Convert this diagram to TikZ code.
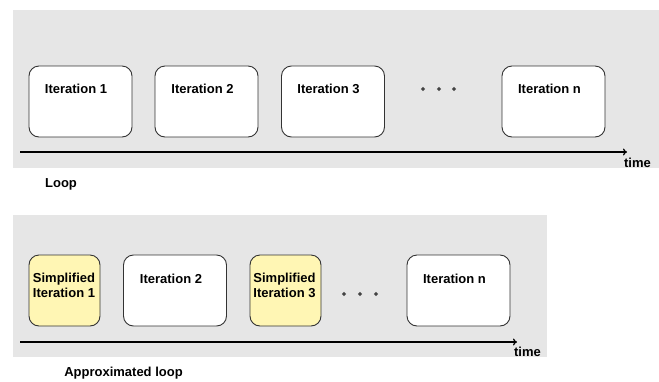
\documentclass[tikz,border=0pt]{standalone}
\usepackage{fontspec}
\setmainfont{Liberation Sans}
\usetikzlibrary{arrows.meta}
\definecolor{panel}{HTML}{E6E6E6}
\definecolor{simp}{HTML}{FFF6B4}
\definecolor{edge}{HTML}{333333}
\begin{document}
\begin{tikzpicture}[x=1pt,y=-1pt,
  lbl/.style={font=\fontsize{13}{15}\selectfont\bfseries, inner sep=0pt, align=left},
  iterbox/.style={draw=edge, line width=0.9pt, fill=white, rounded corners=10pt,
    minimum height=71pt, inner sep=0pt},
  wide/.style={iterbox, minimum width=103pt},
  narrow/.style={iterbox, minimum width=71pt, fill=simp},
  dot/.style={circle, fill=black!75, draw=black!60, minimum size=3.6pt, inner sep=0pt},
  timeline/.style={line width=1.2pt, -{To[length=4pt,width=7pt]}}]
\useasboundingbox (0,0) rectangle (659,381);

% ---- plain loop ----
\fill[panel] (13,10) rectangle (659,168);
\node[wide] (b1) at (80.5,101.5) {};
\node[wide] (b2) at (206.5,101.5) {};
\node[wide] (b3) at (333,101.5) {};
\node[wide] (bn) at (553.5,101.5) {};
\node[lbl] (t1) at (76,89) {Iteration 1};
\node[lbl] (t2) at (202.5,89) {Iteration 2};
\node[lbl] (t3) at (328.5,89) {Iteration 3};
\node[lbl] (tn) at (549.5,89) {Iteration n};
\node[dot] (d1) at (423,89) {};
\node[dot] (d2) at (439,89) {};
\node[dot] (d3) at (454,89) {};
\coordinate (a0) at (20,152);
\coordinate (a1) at (627,152);
\draw[timeline] (a0) -- (a1);
\node[lbl] (time1) at (637.5,162.5) {time};
\node[lbl] (loop) at (61,184) {Loop};

% ---- approximated loop ----
\fill[panel] (13,215) rectangle (547,357);
\node[narrow] (s1) at (64.5,290.5) {};
\node[wide] (c2) at (175,290.5) {};
\node[narrow] (s3) at (285.5,290.5) {};
\node[wide] (cn) at (458.5,290.5) {};
\node[lbl] (u1) at (64,285.5) {Simplified\\Iteration 1};
\node[lbl] (u2) at (171,279) {Iteration 2};
\node[lbl] (u3) at (284.5,285.5) {Simplified\\Iteration 3};
\node[lbl] (un) at (454.5,279) {Iteration n};
\node[dot] (e1) at (344,294) {};
\node[dot] (e2) at (360,294) {};
\node[dot] (e3) at (376,294) {};
\coordinate (p0) at (20,342);
\coordinate (p1) at (517,342);
\draw[timeline] (p0) -- (p1);
\node[lbl] (time2) at (527.5,352) {time};
\node[lbl] (aloop) at (123.5,373) {Approximated loop};
\end{tikzpicture}
\end{document}
